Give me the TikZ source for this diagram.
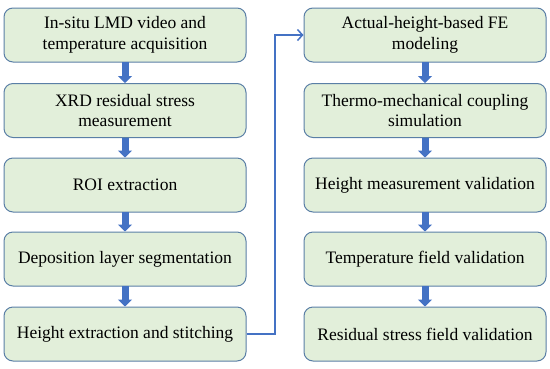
\documentclass[tikz,border=0pt]{standalone}
\usepackage{fontspec}
\setmainfont{Liberation Serif}
\usetikzlibrary{arrows.meta}
\definecolor{boxfill}{HTML}{E2EFDA}
\definecolor{boxline}{HTML}{5A7FA6}
\definecolor{arrblue}{HTML}{4472C4}
\begin{document}
\begin{tikzpicture}[x=1pt,y=-1pt,
  stepbox/.style={draw=boxline, line width=1pt, fill=boxfill, rounded corners=9pt,
    minimum width=242pt, minimum height=54pt, align=center, inner sep=2pt,
    font=\fontsize{17.5}{20.5}\selectfont},
  blockarrow/.style={draw=none, arrblue, line width=7pt, -{Triangle[width=14pt,length=7pt]}, shorten <=-0.5pt}
]
\useasboundingbox (0,0) rectangle (550,368);
\node[stepbox] (a1) at (125,35) {In-situ LMD video and\\temperature acquisition};
\node[stepbox] (a2) at (125,110.5) {XRD residual stress\\measurement};
\node[stepbox] (a3) at (125,185) {ROI extraction};
\node[stepbox] (a4) at (125,259) {Deposition layer segmentation};
\node[stepbox] (a5) at (125,334) {Height extraction and stitching};
\node[stepbox] (b1) at (425,35) {Actual-height-based FE\\modeling};
\node[stepbox] (b2) at (425,110.5) {Thermo-mechanical coupling\\simulation};
\node[stepbox] (b3) at (425,185) {Height measurement validation};
\node[stepbox] (b4) at (425,259) {Temperature field validation};
\node[stepbox] (b5) at (425,334) {Residual stress field validation};
\foreach \u/\v in {a1/a2,a2/a3,a3/a4,a4/a5,b1/b2,b2/b3,b3/b4,b4/b5}
  \draw[blockarrow, draw=arrblue] (\u.south) -- (\v.north);
\coordinate (c1) at (275,334);
\coordinate (c2) at (275,35);
\draw[arrblue, line width=1.5pt, -{Straight Barb[length=5pt,width=11pt]}] (a5.east) -- (c1) -- (c2) -- (b1.west);
\end{tikzpicture}
\end{document}
